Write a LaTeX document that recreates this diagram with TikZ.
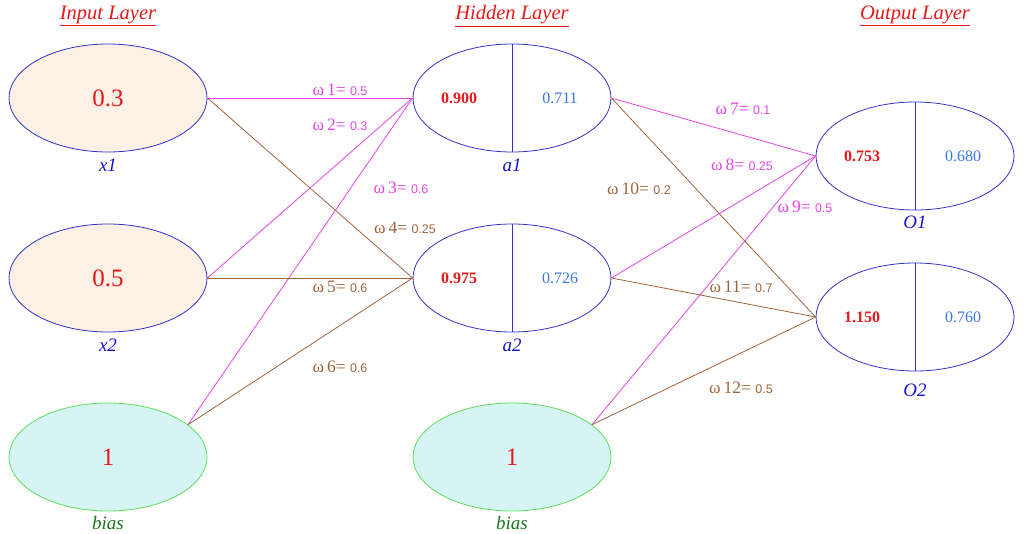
\documentclass[tikz,border=0pt]{standalone}
\usepackage{fontspec}
\setmainfont{Liberation Serif}
\setsansfont{Liberation Sans}
\usepackage{xcolor}
\usetikzlibrary{shapes.geometric}

\definecolor{nodeblue}{RGB}{50,50,200}
\definecolor{namblue}{RGB}{20,20,210}
\definecolor{valred}{RGB}{230,25,25}
\definecolor{valblue}{RGB}{60,120,225}
\definecolor{inputfill}{RGB}{253,240,229}
\definecolor{biasfill}{RGB}{214,244,244}
\definecolor{biasgreen}{RGB}{90,225,90}
\definecolor{namgreen}{RGB}{25,115,25}
\definecolor{linkpink}{RGB}{228,70,228}
\definecolor{linkbrown}{RGB}{160,100,60}

\newcommand{\wlab}[2]{ω\,#1= {\sffamily\fontsize{12.5}{13}\selectfont #2}}

\tikzset{
  neuron/.style={ellipse, draw=nodeblue, line width=0.8pt, minimum width=198pt, minimum height=108pt, inner sep=0pt},
  innode/.style={neuron, fill=inputfill, text=valred, font=\fontsize{25}{25}\selectfont},
  biasnode/.style={neuron, draw=biasgreen, fill=biasfill, text=valred, font=\fontsize{25}{25}\selectfont},
  netval/.style={text=valred, font=\bfseries\fontsize{16}{16}\selectfont},
  outval/.style={text=valblue, font=\fontsize{16}{16}\selectfont},
  layertitle/.style={text=valred, font=\itshape\fontsize{20.5}{20}\selectfont},
  nname/.style={text=namblue, font=\itshape\fontsize{19}{19}\selectfont},
  bname/.style={text=namgreen, font=\itshape\fontsize{19}{19}\selectfont},
  pinklink/.style={draw=linkpink, line width=0.8pt},
  brownlink/.style={draw=linkbrown, line width=0.8pt},
  pinkw/.style={text=linkpink, font=\fontsize{17.5}{18}\selectfont},
  brownw/.style={text=linkbrown, font=\fontsize{17.5}{18}\selectfont}
}

\begin{document}
\begin{tikzpicture}[x=1pt, y=-1pt]
  \useasboundingbox (0,0) rectangle (1024,533);

  % Layer titles
  \node[layertitle] (tin) at (108,16) {\underline{Input Layer}};
  \node[layertitle] (thid) at (512,16) {\underline{Hidden Layer}};
  \node[layertitle] (tout) at (915,16) {\underline{Output Layer}};

  % Input layer
  \node[innode] (x1) at (108,98) {0.3};
  \node[innode] (x2) at (108,278) {0.5};
  \node[biasnode] (b1) at (108,457) {1};
  \node[nname] (x1name) at (108,165) {x1};
  \node[nname] (x2name) at (108,345) {x2};
  \node[bname] (b1name) at (108,523) {bias};

  % Hidden layer
  \node[neuron] (a1) at (512,98) {};
  \node[neuron] (a2) at (512,278) {};
  \node[biasnode] (b2) at (512,457) {1};
  \draw[nodeblue, line width=0.8pt] (a1.north) -- (a1.south);
  \draw[nodeblue, line width=0.8pt] (a2.north) -- (a2.south);
  \node[netval] (a1net) at (459,98) {0.900};
  \node[outval] (a1out) at (560,98) {0.711};
  \node[netval] (a2net) at (459,278) {0.975};
  \node[outval] (a2out) at (560,278) {0.726};
  \node[nname] (a1name) at (512,165) {a1};
  \node[nname] (a2name) at (512,345) {a2};
  \node[bname] (b2name) at (512,523) {bias};

  % Output layer
  \node[neuron] (o1) at (915,156) {};
  \node[neuron] (o2) at (915,317) {};
  \draw[nodeblue, line width=0.8pt] (o1.north) -- (o1.south);
  \draw[nodeblue, line width=0.8pt] (o2.north) -- (o2.south);
  \node[netval] (o1net) at (862,156) {0.753};
  \node[outval] (o1out) at (963,156) {0.680};
  \node[netval] (o2net) at (862,317) {1.150};
  \node[outval] (o2out) at (963,317) {0.760};
  \node[nname] (o1name) at (915,222) {O1};
  \node[nname] (o2name) at (915,390) {O2};

  % Input -> hidden
  \draw[pinklink] (x1.east) -- (a1.west);
  \draw[pinklink] (x2.east) -- (a1.west);
  \draw[pinklink] (b1.22) -- (a1.west);
  \draw[brownlink] (x1.east) -- (a2.west);
  \draw[brownlink] (x2.east) -- (a2.west);
  \draw[brownlink] (b1.22) -- (a2.west);

  % Hidden -> output
  \draw[pinklink] (a1.east) -- (o1.west);
  \draw[pinklink] (a2.east) -- (o1.west);
  \draw[pinklink] (b2.22) -- (o1.west);
  \draw[brownlink] (a1.east) -- (o2.west);
  \draw[brownlink] (a2.east) -- (o2.west);
  \draw[brownlink] (b2.22) -- (o2.west);

  % Weights
  \node[pinkw] (w1) at (340,90) {\wlab{1}{0.5}};
  \node[pinkw] (w2) at (340,125) {\wlab{2}{0.3}};
  \node[pinkw] (w3) at (401,188) {\wlab{3}{0.6}};
  \node[brownw] (w4) at (405,228) {\wlab{4}{0.25}};
  \node[brownw] (w5) at (340,287) {\wlab{5}{0.6}};
  \node[brownw] (w6) at (340,367) {\wlab{6}{0.6}};
  \node[pinkw] (w7) at (743,109) {\wlab{7}{0.1}};
  \node[pinkw] (w8) at (742,165) {\wlab{8}{0.25}};
  \node[pinkw] (w9) at (805,207) {\wlab{9}{0.5}};
  \node[brownw] (w10) at (639,189) {\wlab{10}{0.2}};
  \node[brownw] (w11) at (741,287) {\wlab{11}{0.7}};
  \node[brownw] (w12) at (741,388) {\wlab{12}{0.5}};
\end{tikzpicture}
\end{document}
